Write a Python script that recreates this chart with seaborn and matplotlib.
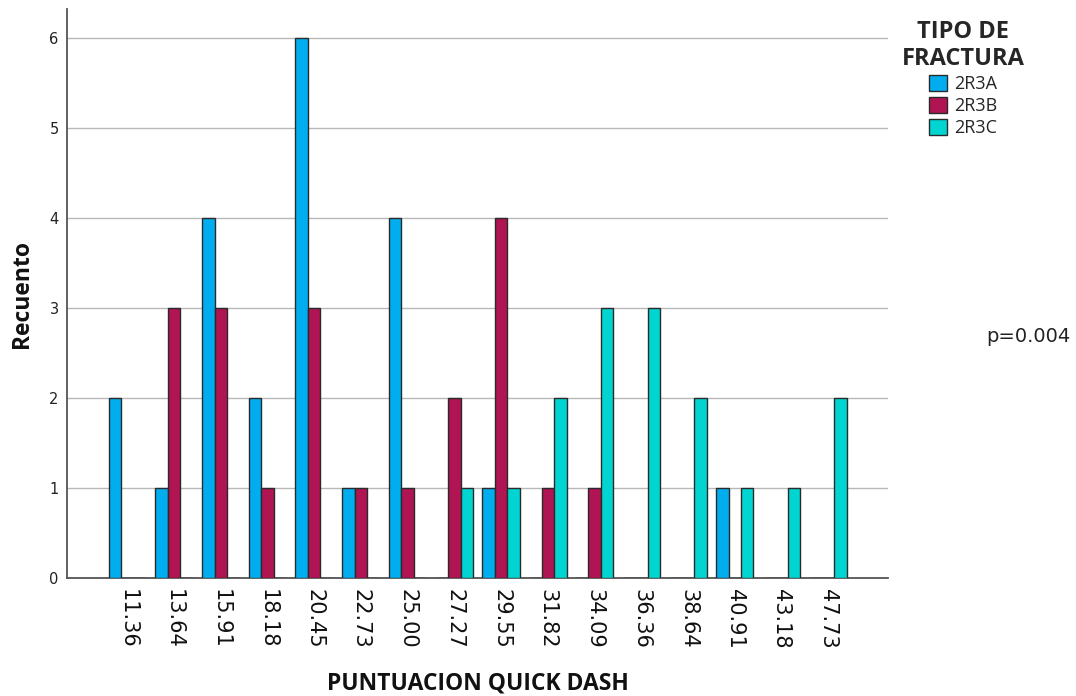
import matplotlib
matplotlib.use("Agg")
import matplotlib.pyplot as plt
import seaborn as sns
import pandas as pd

# Quick DASH scores and counts per fracture type
scores = ["11.36", "13.64", "15.91", "18.18", "20.45", "22.73", "25.00", "27.27",
          "29.55", "31.82", "34.09", "36.36", "38.64", "40.91", "43.18", "47.73"]
types = ["2R3A", "2R3B", "2R3C"]
count_2r3a = [2, 1, 4, 2, 6, 1, 4, 0, 1, 0, 0, 0, 0, 1, 0, 0]
count_2r3b = [0, 3, 3, 1, 3, 1, 1, 2, 4, 1, 1, 0, 0, 0, 0, 0]
count_2r3c = [0, 0, 0, 0, 0, 0, 0, 1, 1, 2, 3, 3, 2, 1, 1, 2]
colors = ["#00AEEF", "#B01452", "#00D5D1"]

rows = []
for t, vals in zip(types, [count_2r3a, count_2r3b, count_2r3c]):
    for s, v in zip(scores, vals):
        rows.append({"score": s, "tipo": t, "n": v})
df = pd.DataFrame(rows)

sns.set_style("white")
plt.rcParams["font.family"] = ["DejaVu Sans"]

fig = plt.figure(figsize=(10.76, 6.96), dpi=100)
ax = fig.add_axes([67 / 1076, 1 - 578 / 696, (888 - 67) / 1076, (578 - 9) / 696])

sns.barplot(data=df, x="score", y="n", hue="tipo", order=scores, hue_order=types,
            palette=colors, width=0.8, edgecolor="#2a2a2a", linewidth=1.0,
            saturation=1, ax=ax, legend=False, zorder=3)

ax.set_xlim(-1.29, 16.28)
ax.set_ylim(0, 6.32)
ax.set_yticks(range(0, 7))
ax.yaxis.grid(True, color="#b8b8b8", linewidth=1.0, zorder=0)
ax.xaxis.grid(False)
ax.set_axisbelow(True)

for side in ["top", "right"]:
    ax.spines[side].set_visible(False)
for side in ["left", "bottom"]:
    ax.spines[side].set_color("#555555")
    ax.spines[side].set_linewidth(1.3)

ax.tick_params(axis="y", length=0, pad=6, labelsize=10.5, labelcolor="#222222")
ax.tick_params(axis="x", length=0, pad=8, labelsize=15, labelcolor="#111111")
for lbl in ax.get_xticklabels():
    lbl.set_rotation(-90)
    lbl.set_ha("center")
    lbl.set_va("top")

ax.set_xlabel("PUNTUACION QUICK DASH", fontfamily="Open Sans", fontweight="bold",
              fontsize=16.5, color="#111111", labelpad=16)
ax.set_ylabel("Recuento", fontfamily="Open Sans", fontweight="bold",
              fontsize=16.5, color="#111111", labelpad=11)

handles = [plt.Rectangle((0, 0), 1, 1, facecolor=c, edgecolor="#2a2a2a", linewidth=1.0)
           for c in colors]
leg = fig.legend(handles, types, title="TIPO DE\nFRACTURA", loc="upper left",
                 bbox_to_anchor=(889 / 1076, 1 - 7 / 696), frameon=False,
                 prop={"family": "Open Sans", "size": 13},
                 title_fontproperties={"family": "Open Sans", "weight": "bold", "size": 17},
                 handlelength=1.0, handleheight=1.0, handletextpad=0.35,
                 labelspacing=0.2, borderpad=0.2)
leg.get_title().set_multialignment("center")

fig.text(986 / 1076, 1 - 336 / 696, "p=0.004", fontsize=14, color="#222222",
         ha="left", va="center")

fig.savefig("out.png", dpi=100)
